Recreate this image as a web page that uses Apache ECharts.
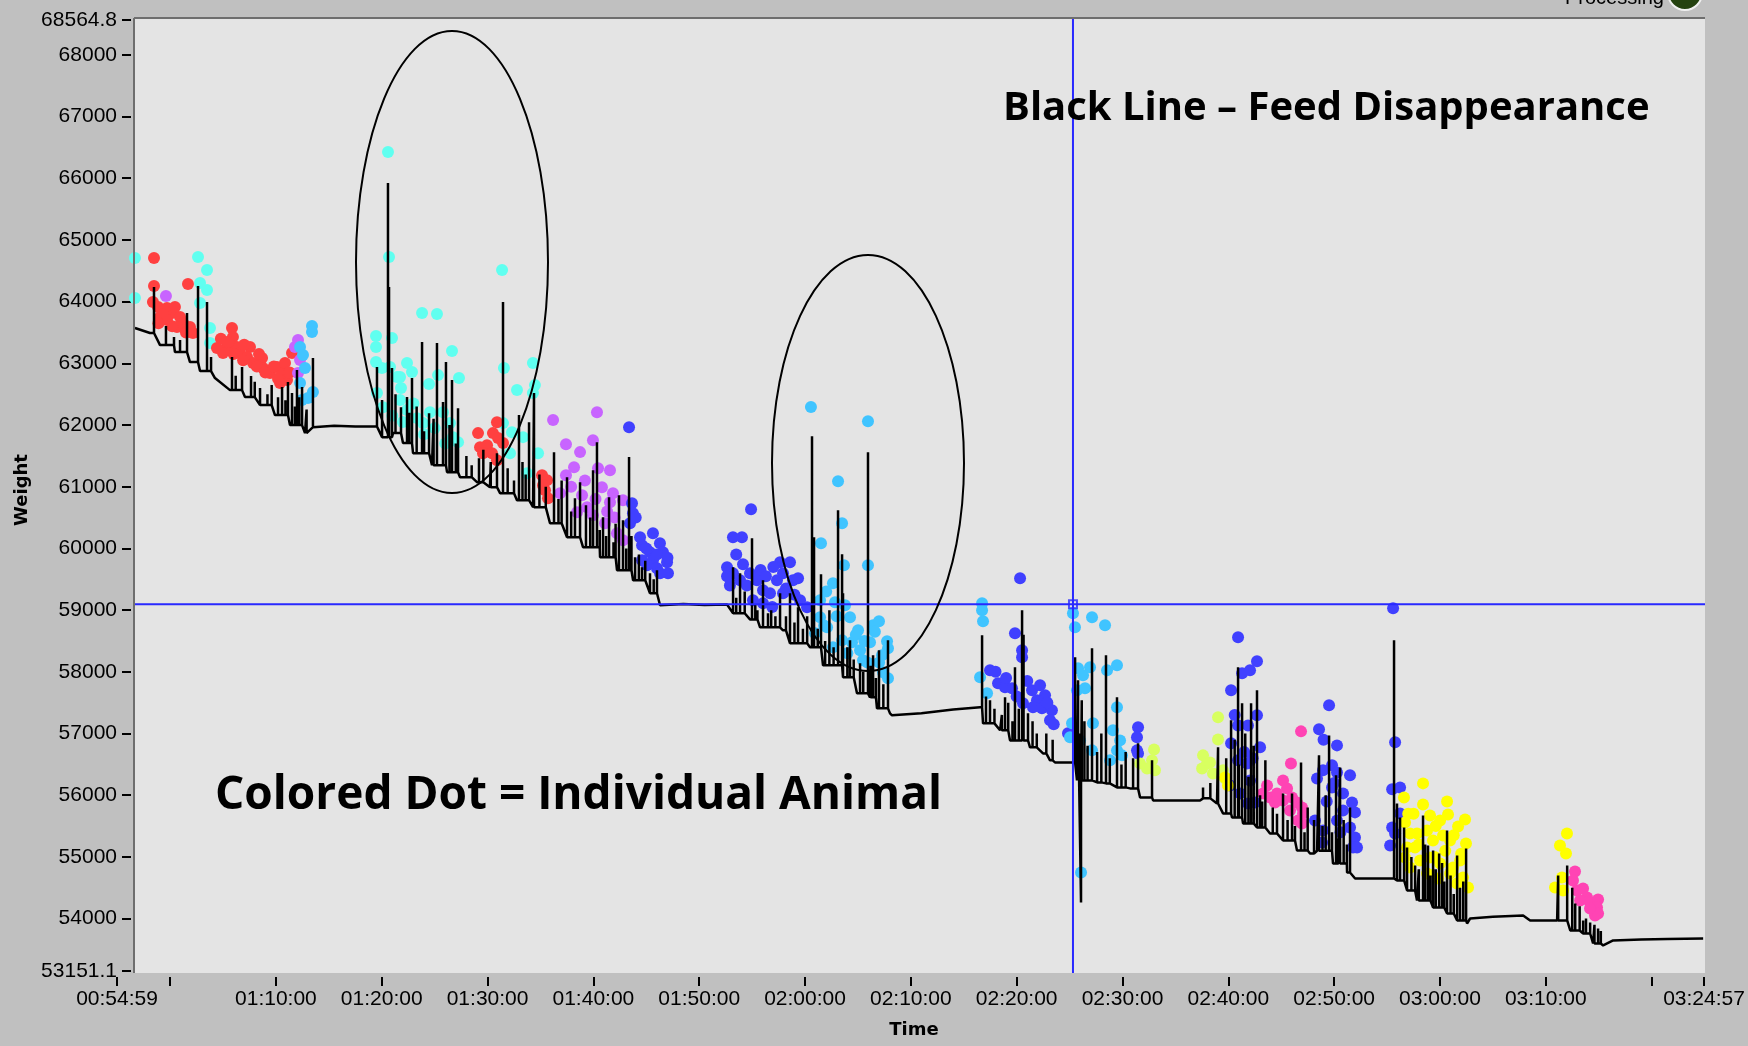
<!DOCTYPE html>
<html>
<head>
<meta charset="utf-8">
<script src="https://cdn.jsdelivr.net/npm/echarts@6/dist/echarts.min.js"></script>
<style>
html,body{margin:0;padding:0;background:#c0c0c0;}
#chart{width:1748px;height:1046px;}
</style>
</head>
<body>
<div id="chart"></div>
<script>
// ================= DATA =================
// x axis tick labels (time of day) and unlabeled minor ticks
const xLabelTimes = ['00:54:59','01:10:00','01:20:00','01:30:00','01:40:00','01:50:00','02:00:00','02:10:00','02:20:00','02:30:00','02:40:00','02:50:00','03:00:00','03:10:00','03:24:57'];
const xExtraTickTimes = ['01:00:00','03:20:00'];
// y axis tick values (weight)
const yTickValues = [53151.1,54000,55000,56000,57000,58000,59000,60000,61000,62000,63000,64000,65000,66000,67000,68000,68564.8];

// Black line: feed weight baseline (time in minutes after midnight, weight)
const feedTime = [56.68,58.10,59.05,60.46,61.88,62.83,64.24,65.66,67.08,68.50,69.91,71.33,72.75,73.50,75.50,77.50,79.65,
  80.03,81.07,82.01,82.96,84.56,84.75,86.17,87.40,89.00,90.23,91.18,92.78,94.30,95.90,97.51,99.02,100.63,102.23,103.75,105.35,106.30,108.50,110.50,112.63,
  113.20,114.80,115.75,117.92,118.58,120.47,121.70,123.59,124.91,126.14,126.80,128.03,128.22,131.00,134.00,136.54,
  136.82,138.43,139.37,141.26,142.49,143.15,143.62,145.23,145.70,147.21,148.16,149.48,150.71,151.66,152.89,157.33,157.61,158.93,159.50,160.35,161.39,162.71,163.94,165.17,166.49,167.72,168.39,169.89,171.22,171.98,175.47,
  175.94,176.89,177.83,179.35,180.67,181.62,182.56,182.85,185.00,187.86,188.52,191.07,192.31,193.53,194.47,195.42,196.36,199.00,201.50,204.87];
const feedWeight = [63572,63491,63296,63183,63020,62875,62761,62566,62453,62323,62161,61999,61869,61966,61990,61975,61982,
  61804,61869,61707,61544,61544,61350,61236,61155,61074,60993,60896,60782,60669,60409,60182,60020,59858,59647,59485,59274,59079,59100,59085,59090,
  58949,58850,58722,58673,58463,58398,58106,57911,57651,57587,57408,57327,57295,57330,57390,57425,
  57165,57052,56889,56776,56678,56565,56532,56532,56240,56208,56192,56127,56111,55965,55916,55916,55949,55867,55705,55640,55543,55478,55381,55267,55105,55056,55100,54894,54748,54651,54651,
  54619,54456,54294,54181,54083,53970,53921,54002,54030,54051,53970,53970,53808,53759,53597,53565,53646,53660,53670,53678];

// Black line: spikes (time, peak weight)
const spikeTime = [58.48,59.61,60.37,60.94,61.60,62.64,63.49,63.87,65.85,66.20,66.80,67.65,68.00,68.50,69.20,69.60,70.20,70.58,70.90,71.14,71.52,71.80,71.99,72.20,72.47,72.90,73.50,
  79.55,80.03,80.59,80.69,80.97,81.30,81.82,82.39,82.60,82.86,83.30,83.81,84.00,84.47,84.90,85.22,85.79,86.07,86.40,86.64,87.00,87.21,88.00,88.50,89.19,89.60,90.30,90.89,91.46,91.90,92.50,92.97,93.30,93.60,93.92,94.39,94.90,95.50,96.28,96.70,97.00,97.51,97.90,98.26,98.74,99.30,99.70,99.97,100.34,100.60,100.91,101.20,101.48,101.90,102.10,102.42,102.80,103.10,103.37,103.60,103.94,104.30,104.60,104.90,105.35,105.70,106.01,
  113.20,113.50,113.86,114.30,114.99,115.30,115.50,116.03,116.50,116.80,117.20,117.64,118.20,118.58,119.00,119.34,119.80,120.20,120.66,120.85,121.20,121.51,121.90,122.30,122.70,123.12,123.50,123.59,124.00,124.25,124.60,125.20,125.50,125.95,126.20,126.43,126.70,126.99,127.40,127.84,
  136.73,137.10,137.48,137.90,138.60,138.90,139.20,139.60,139.84,140.20,140.51,140.65,141.07,141.50,141.90,142.80,143.40,145.52,145.80,145.90,146.08,146.15,146.40,146.70,147.12,147.60,148.00,148.44,148.80,149.48,149.90,150.30,151.00,151.47,152.79,
  157.61,158.30,159.03,159.80,160.26,160.60,160.92,161.00,161.30,161.60,161.90,162.15,162.40,162.71,163.00,163.20,163.50,164.20,164.60,165.17,165.60,166.02,166.30,166.87,167.20,167.50,168.10,168.57,168.90,169.20,169.52,169.80,170.18,170.40,170.56,170.90,171.20,171.50,
  175.66,175.94,176.23,176.61,176.89,177.30,177.65,178.00,178.40,178.60,178.87,179.10,179.35,179.60,179.92,180.20,180.40,180.67,181.00,181.30,181.62,181.90,182.20,182.47,
  191.17,192.02,192.50,192.78,193.20,193.53,193.80,194.19,194.60,194.94,195.20];
const spikeTop = [64237,63604,63426,63377,63815,64253,63994,63102,63102,62800,62939,62793,62700,62599,62500,62650,62450,62615,62400,62696,62518,62300,62891,62450,62615,62250,63085,
  62939,62404,65924,64237,62923,62500,62290,62453,62200,62761,62300,63345,61900,62193,62100,63329,62372,63020,62000,62728,61700,62274,61500,61350,61463,61600,61400,61544,63994,61300,61100,62161,61400,61200,62047,62518,61200,61000,61560,60800,61100,61155,60600,60815,61074,60700,60500,61269,61723,60300,60506,60200,60831,60100,60400,60863,60457,60000,61480,60200,59858,59900,59696,59800,59598,59500,59647,
  59696,59200,59598,59300,60166,59100,59000,59485,58949,59000,58900,59274,58900,59274,58800,59047,58700,58900,61820,60182,58700,59582,58500,59000,58400,60620,59906,59274,58400,58511,58200,58138,58000,61560,58100,58268,57900,58349,57800,58511,
  58592,57600,57538,57400,57300,57587,57500,57200,58073,57400,58998,58600,57327,57200,57000,57000,56900,58235,57862,57000,54262,57538,57200,56800,58382,56700,57000,58268,56600,57587,56500,56700,56600,56841,56565,
  56127,56200,56776,56600,57214,56900,58073,56500,57489,57000,56300,57489,56800,57700,56000,55900,56565,55800,55700,56030,55600,56030,55500,56532,55400,55800,55600,56646,55500,56000,56970,55400,56322,55300,56451,55600,55200,55803,
  58511,55867,55640,55478,55154,55000,54862,54800,55673,55200,55186,54700,55105,54800,55056,54900,54600,55430,54700,54400,55024,54500,54600,55138,
  54700,54862,54500,54246,54200,53970,54000,53937,53900,53840,53800];

// Colored dots: individual animal visits (time in minutes, weight)
const dotsCyan = [[56.68,64707],[56.68,64058],[62.64,64723],[63.49,64513],[63.49,64188],[62.83,64302],[62.83,63977],[63.77,63572],[63.77,63329],
  [80.59,66427],[80.69,64723],[79.46,63442],[79.46,63264],[79.46,63020],[80.02,62923],[80.97,63410],[80.78,62939],[81.44,62777],[81.73,62777],[81.82,62599],
  [82.39,63004],[82.86,62858],[83.81,63815],[85.22,63799],[84.47,62664],[85.32,62809],[86.64,63199],[87.30,62761],[84.56,62209],[83.33,62112],[83.90,62031],
  [85.79,62209],[86.45,62031],[86.73,61804],[87.21,61723],[81.73,62404],[82.39,62242],[79.55,62518],[80.12,62290],
  [81.00,62150],[82.00,62050],[84.00,61850],[85.00,61950],[86.00,61700],[83.00,62350],
  [91.37,64513],[91.55,62923],[92.78,62566],[94.29,63004],[94.48,62647],[94.29,62518],[94.77,61544],[92.31,61885],[91.46,62031],[93.35,61804],[92.12,61544],[93.73,61220]];
const dotsRed = [[58.48,64707],[58.48,64253],[61.69,64286],[58.38,63994],[58.86,63912],[59.71,63896],[60.18,63815],[60.46,63912],[60.94,63750],[61.22,63653],
  [61.88,63588],[62.16,63491],[59.05,63750],[59.71,63702],[60.65,63588],[60.20,63600],[61.50,63500],[59.30,63800],[58.90,63650],
  [65.85,63572],[65.94,63426],[65.38,63264],[66.32,63264],[66.61,63166],[67.55,63264],
  [67.27,63102],[67.84,63004],[68.69,63085],[68.78,62923],[69.44,62842],[70.10,62939],[70.58,62842],[70.86,63004],[71.52,63166],[70.39,62680],[71.05,62728],
  [65.00,63166],[64.43,63247],[64.80,63400],[65.50,63350],[66.00,63150],[66.90,63050],[67.00,63300],[68.20,62950],[68.40,63150],[69.00,62850],[69.80,62950],[70.20,62750],[71.30,62850],
  [89.10,61869],[90.89,62047],[90.51,61869],[89.29,61642],[89.95,61674],[89.57,61544],[90.42,61544],[90.89,61431],[90.99,61788],[91.46,61707],
  [95.15,61187],[95.62,61106],[95.43,60944],[95.71,60814],[95.24,61025]];
const dotsPurple = [[59.61,64091],[72.09,63377],[71.80,63264],[72.28,63053],[72.09,62842],
  [96.19,62080],[100.34,62209],[97.41,61690],[98.74,61561],[99.96,61755],[98.17,61317],[97.41,61187],[100.44,61301],[101.57,61269],[100.81,60993],
  [101.85,60896],[101.57,60750],[102.80,60782],[98.93,60863],[99.40,60668],[98.45,60587],[99.96,60539],[101.10,60409],[102.23,60247],[102.80,60133],[96.85,60896],
  [97.90,61000],[99.20,61100],[100.20,60800],[101.30,60600],[102.00,60500]];
const dotsSky = [[73.41,63604],[73.41,63507],[72.28,63264],[72.56,63134],[72.75,62923],[72.28,62680],[73.50,62534],[72.46,62404],[73.03,62437],
  [120.56,62291],[125.95,62063],[123.12,61090],[123.50,60409],[121.51,60085],[123.68,59728],[125.95,59728],[122.64,59436],[121.42,59160],[122.83,59128],
  [123.78,59079],[124.25,58884],[121.42,58884],[122.08,58722],[125.01,58673],[126.43,58755],[126.99,58819],[124.44,58479],[126.14,58479],[125.20,58349],
  [127.75,58495],[127.84,58382],[127.27,58268],[125.48,58187],[123.50,58511],[122.64,58398],[127.37,57992],[127.84,57895],[120.94,58625],
  [122.00,59300],[123.00,58900],[124.80,58600],[125.60,58500],[126.60,58650],[124.00,58300],[125.90,58150],[121.80,58750],[127.00,58150],
  [136.73,59112],[136.73,58998],[136.82,58819],[136.54,57911],[137.20,57651],
  [145.32,58949],[145.51,58722],[147.12,58884],[148.35,58755],[149.48,58106],[145.80,58057],[146.93,58073],[146.27,57944],[145.70,57700],[146.46,57733],
  [148.54,58025],[149.48,57425],[149.10,57052],[149.77,56889],[149.48,56727],[149.95,56646],[148.82,56565],[145.23,57165],[145.04,56938],[147.21,57165],
  [147.12,56727],[145.99,56889],[146.08,54748]];
const dotsBlue = [[103.37,61966],[103.65,60733],[103.74,60571],[103.46,60409],[104.41,60182],[105.63,60247],[106.29,60085],[104.60,60052],[105.35,59939],
  [106.58,59939],[104.60,59809],[105.63,59809],[106.96,59776],[106.01,59679],[107.05,59598],[105.07,59728],[106.30,59598],
  [104.00,60500],[105.00,60000],[106.00,59900],[107.00,59850],
  [114.90,60636],[113.19,60182],[114.04,60182],[112.63,59696],[113.19,59598],[114.14,59744],[114.80,59598],[115.46,59485],[112.63,59549],[113.86,59485],
  [116.03,59322],[116.69,59274],[117.35,59485],[117.64,59776],[118.58,59776],[117.92,59598],[118.86,59485],[119.34,59517],[117.92,59274],[119.53,59160],
  [120.19,59046],[115.08,59160],[116.03,59112],[115.46,59533],
  [113.50,59900],[114.50,59400],[115.80,59650],[116.30,59550],[117.00,59700],[118.20,59350],[119.00,59250],[112.90,59400],[116.90,59050],
  [140.32,59517],[139.84,58625],[140.51,58349],[140.51,58235],[137.48,58025],[138.24,57814],[138.90,57749],[139.56,57733],[141.45,57700],[142.21,57781],
  [142.68,57619],[141.92,57538],[141.54,57425],[142.39,57408],[143.33,57376],[143.15,57214],[140.60,57489],[144.85,57003],
  [138.00,58000],[139.00,57900],[140.00,57600],[141.00,57850],[142.90,57500],[143.50,57150],
  [151.47,57100],[151.37,56938],[151.37,56727],[151.47,56678],
  [160.92,58560],[162.71,58171],[162.05,58025],[161.30,57976],[160.26,57700],[162.71,57295],[160.92,57132],[161.86,57132],[160.26,56841],[163.00,56776],
  [160.92,56565],[161.77,56516],[162.05,56240],[160.16,56159],[161.11,56030],[161.86,55867],[162.52,55884],
  [160.60,57300],[161.50,56700],[162.30,56600],
  [169.52,57457],[168.57,57068],[170.27,56808],[168.95,56403],[169.80,56484],[168.38,56273],[170.27,56370],[171.50,56322],[169.80,56127],[170.84,56030],
  [171.69,55884],[171.97,55722],[170.84,55754],[168.19,55592],[168.95,55430],[170.27,55592],[171.50,55478],[171.97,55316],[171.78,55154],[168.86,55235],[172.16,55154],
  [169.00,56900],[170.00,56200],[169.30,55900],[170.60,55400],
  [175.57,59030],[175.76,56857],[175.48,56095],[176.23,56127],[175.48,55478],[175.29,55186],[175.76,55381],[176.23,55705]];
const dotsLime = [[152.98,56743],[152.79,56565],[153.07,56403],[151.66,56516],[152.32,56435],
  [159.03,57262],[159.03,56905],[157.61,56646],[157.99,56516],[157.52,56435],[158.55,56354],[159.50,56403],[159.69,56273],[158.27,56532]];
const dotsPink = [[166.87,57035],[165.92,56516],[165.17,56240],[163.66,56159],[163.28,56030],[163.94,55965],[164.60,56030],[165.55,56111],[166.02,55965],
  [166.49,55884],[165.17,55916],[166.96,55803],[167.06,55705],[166.59,55592],[166.96,55543],[165.83,55754],[164.41,55884],
  [192.76,54764],[192.57,54618],[192.95,54456],[193.52,54489],[193.90,54343],[193.24,54294],[194.18,54262],[194.94,54310],[194.84,54181],[194.65,54051],[194.94,54083],[194.18,54164]];
const dotsYellow = [[159.69,56289],[159.97,56159],
  [178.40,56192],[176.60,55965],[178.40,55851],[180.67,55900],[179.06,55673],[180.01,55592],[180.76,55689],[182.37,55608],[181.71,55494],[182.46,55218],
  [176.70,55559],[177.17,55381],[177.83,55381],[178.78,55430],[176.89,55154],[177.64,55154],[179.34,55267],[180.29,55348],[180.95,55267],[176.70,54991],
  [178.12,54943],[179.06,54991],[180.01,54894],[181.24,54829],[181.90,54943],[182.18,54667],[182.65,54505],[181.61,54570],[180.95,54732],[177.17,54829],
  [178.78,54732],[179.82,54651],
  [177.50,55700],[178.00,55200],[179.50,55000],[180.50,55100],[181.30,55350],[182.00,55050],[177.00,55700],[179.60,55500],
  [192.00,55381],[191.34,55186],[191.91,55056],[191.53,54667],[190.87,54505],[191.63,54456]];

// Cursor (crosshair) position
const cursorTime = 145.32;
const cursorWeight = 59094;

// ================= HELPERS =================
function toMin(s){ const p = s.split(':').map(Number); return p[0]*60 + p[1] + p[2]/60; }
function fmtTime(m){
  let sec = Math.round(m*60);
  const h = Math.floor(sec/3600); sec -= h*3600;
  const mm = Math.floor(sec/60); const ss = sec - mm*60;
  const z = n => (n<10?'0':'') + n;
  return z(h)+':'+z(mm)+':'+z(ss);
}
const xLabelVals = xLabelTimes.map(toMin);
const xTickVals = xLabelVals.concat(xExtraTickTimes.map(toMin)).sort((a,b)=>a-b);
const xMin = xLabelVals[0], xMax = xLabelVals[xLabelVals.length-1];

// build black line: baseline + spikes (spike rises from current level and returns)
const events = [];
feedTime.forEach((t,i)=>events.push({t, v: feedWeight[i], k:0}));
spikeTime.forEach((t,i)=>events.push({t, v: spikeTop[i], k:1}));
events.sort((a,b)=> a.t - b.t || a.k - b.k);
const lineData = [];
let cur = feedWeight[0];
events.forEach(e=>{
  if (e.k === 0) { lineData.push([e.t, e.v]); cur = e.v; }
  else { lineData.push([e.t, cur]); lineData.push([e.t, e.v]); lineData.push([e.t, cur]); }
});

// ================= CHART =================
const chart = echarts.init(document.getElementById('chart'), null, {renderer:'canvas'});
const tickFont = {fontFamily:'Liberation Sans', fontSize:21, color:'#000'};
function dotSeries(name, data, color){
  return {name, type:'scatter', data, symbol:'circle', symbolSize:12, z:2,
    itemStyle:{color, opacity:1}, silent:true};
}
const option = {
  animation:false,
  backgroundColor:'#c0c0c0',
  grid:{left:117, right:44, top:20, bottom:75, containLabel:false},
  xAxis:{
    type:'value', min:xMin, max:xMax, offset:6,
    splitLine:{show:false},
    axisLine:{show:false},
    axisTick:{show:true, length:9, lineStyle:{color:'#000', width:2}, customValues:xTickVals},
    axisLabel:{show:true, customValues:xLabelVals, formatter: v => fmtTime(v), margin:12, ...tickFont}
  },
  yAxis:{
    type:'value', min:yTickValues[0], max:yTickValues[yTickValues.length-1], offset:-14,
    splitLine:{show:false},
    axisLine:{show:false},
    axisTick:{show:true, length:9, lineStyle:{color:'#000', width:2}, customValues:yTickValues},
    axisLabel:{show:true, customValues:yTickValues, margin:14,
      formatter: v => (Math.abs(v - Math.round(v)) < 1e-6 ? String(Math.round(v)) : v.toFixed(1)), ...tickFont}
  },
  series:[
    dotSeries('Animal cyan', dotsCyan, '#60fff0'),
    dotSeries('Animal red', dotsRed, '#ff4040'),
    dotSeries('Animal purple', dotsPurple, '#c864ff'),
    dotSeries('Animal blue', dotsBlue, '#4040ff'),
    dotSeries('Animal sky', dotsSky, '#40c4ff'),
    dotSeries('Animal lime', dotsLime, '#d8ff60'),
    dotSeries('Animal pink', dotsPink, '#ff44b4'),
    dotSeries('Animal yellow', dotsYellow, '#ffff00'),
    {name:'Feed Disappearance', type:'line', data:lineData, showSymbol:false, symbol:'none', z:3, silent:true,
      lineStyle:{color:'#000', width:2.5}},
    {name:'Cursor', type:'scatter', data:[[cursorTime, cursorWeight]], symbol:'rect', symbolSize:8, z:20, silent:true,
      itemStyle:{color:'rgba(0,0,0,0)', borderColor:'#2828ff', borderWidth:2}}
  ]
};
chart.setOption(option);

// plot frame and annotations
const FR = {x:134, y:18, w:1571, h:955};
const cp = chart.convertToPixel({gridIndex:0}, [cursorTime, cursorWeight]);
chart.setOption({
  graphic:{elements:[
    {type:'rect', z:-10, shape:{x:FR.x, y:FR.y, width:FR.w, height:FR.h}, style:{fill:'#e4e4e4'}, silent:true},
    {type:'line', z:50, shape:{x1:FR.x, y1:FR.y, x2:FR.x, y2:FR.y+FR.h}, style:{stroke:'#6e6e6e', lineWidth:2}, silent:true},
    {type:'line', z:50, shape:{x1:FR.x, y1:FR.y, x2:FR.x+FR.w, y2:FR.y}, style:{stroke:'#6e6e6e', lineWidth:2}, silent:true},
    // cursor lines
    {type:'line', z:10, shape:{x1:cp[0], y1:FR.y, x2:cp[0], y2:FR.y+FR.h}, style:{stroke:'#2828ff', lineWidth:2}, silent:true},
    {type:'line', z:10, shape:{x1:FR.x, y1:cp[1], x2:FR.x+FR.w, y2:cp[1]}, style:{stroke:'#2828ff', lineWidth:2}, silent:true},
    // ellipses
    {type:'ellipse', z:60, shape:{cx:452, cy:262, rx:96, ry:231}, style:{fill:null, stroke:'#000', lineWidth:2}, silent:true},
    {type:'ellipse', z:60, shape:{cx:868, cy:463, rx:96, ry:208}, style:{fill:null, stroke:'#000', lineWidth:2}, silent:true},
    // annotation texts
    {type:'text', z:60, x:1003, y:109, style:{text:'Black Line \u2013 Feed Disappearance', font:'bold 40px "Open Sans"', fill:'#000', textAlign:'left', textVerticalAlign:'middle'}, silent:true},
    {type:'text', z:60, x:215, y:796, style:{text:'Colored Dot = Individual Animal', font:'bold 46px "Open Sans"', fill:'#000', textAlign:'left', textVerticalAlign:'middle'}, silent:true},
    // axis titles
    {type:'text', z:60, x:22, y:490, rotation:Math.PI/2, style:{text:'Weight', font:'bold 18px "DejaVu Sans"', fill:'#000', textAlign:'center', textVerticalAlign:'middle'}, silent:true},
    {type:'text', z:60, x:914, y:1030, style:{text:'Time', font:'bold 18px "DejaVu Sans"', fill:'#000', textAlign:'center', textVerticalAlign:'middle'}, silent:true},
    // partially visible status indicator at top right
    {type:'text', z:60, x:1565, y:8, style:{text:'Processing', font:'20px "Liberation Sans"', fill:'#000', textAlign:'left', textVerticalAlign:'bottom'}, silent:true},
    {type:'circle', z:60, shape:{cx:1685, cy:-7, r:17}, style:{fill:'#24420f', stroke:'#f0f0f0', lineWidth:2}, silent:true}
  ]}
});
</script>
</body>
</html>
